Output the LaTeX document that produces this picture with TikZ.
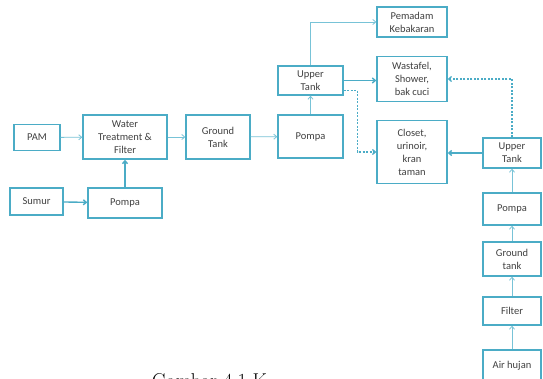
\documentclass[tikz,border=0pt]{standalone}
\usepackage{fontspec}
\newfontfamily\boxfont{Carlito}
\usepackage{tikz}
\usetikzlibrary{arrows.meta}
\definecolor{aqua}{RGB}{75,172,198}
\definecolor{lightaqua}{RGB}{120,195,215}
\tikzset{
  box/.style={draw=aqua, line width=1.3pt, align=center, inner sep=1pt,
    font=\boxfont\fontsize{10.5}{13}\selectfont, text=black!75},
  link/.style={draw=lightaqua, line width=0.8pt, -{Straight Barb[length=3pt,width=5pt]}},
  boldlink/.style={link, draw=aqua, line width=1.4pt},
  dotlink/.style={link, draw=aqua, line width=1.2pt, dash pattern=on 2pt off 1.5pt}
}

\begin{document}
\begin{tikzpicture}[x=1pt,y=-1pt]
\useasboundingbox[fill=white] (0,0) rectangle (543,378);

% left part
\node [box, minimum width=46, minimum height=26] (pam) at (37,137.5) {PAM};
\node [box, minimum width=84, minimum height=44] (wtf) at (125,137) {Water\\Treatment \&\\Filter};
\node [box, minimum width=64, minimum height=44] (gtank) at (218,137) {Ground\\Tank};
\node [box, minimum width=53, minimum height=27] (sumur) at (36.5,201.5) {Sumur};
\node [box, minimum width=74, minimum height=30] (pompaA) at (125,203) {Pompa};

% middle part
\node [box, minimum width=65, minimum height=43] (pompaB) at (310.5,136.5) {Pompa};
\node [box, minimum width=65, minimum height=29] (upperA) at (310.5,80.5) {Upper\\Tank};
\node [box, minimum width=70, minimum height=30] (pemadam) at (412,22) {Pemadam\\Kebakaran};
\node [box, minimum width=70, minimum height=45] (wastafel) at (412,79) {Wastafel,\\Shower,\\bak cuci};
\node [box, minimum width=70, minimum height=63] (closet) at (412,152) {Closet,\\urinoir,\\kran\\taman};

% right column
\node [box, minimum width=58, minimum height=30] (upperB) at (512,153) {Upper\\Tank};
\node [box, minimum width=58, minimum height=32] (pompaC) at (512,209) {Pompa};
\node [box, minimum width=58, minimum height=34] (gtankB) at (512,259) {Ground\\tank};
\node [box, minimum width=58, minimum height=28] (filter) at (512,311) {Filter};
\node [box, minimum width=58, minimum height=32] (airhujan) at (512,366) {Air hujan};

% connectors
\draw [link] (pam) -- (wtf);
\draw [link] (wtf) -- (gtank);
\draw [link] (gtank) -- (pompaB);
\draw [boldlink] (sumur) -- (pompaA);
\draw [boldlink] (pompaA) -- (wtf);
\draw [link] (pompaB) -- (upperA);
\draw [link] (upperA.north) |- (pemadam.west);
\draw [boldlink] (upperA.east) -- (upperA.east -| wastafel.west);
\draw [dotlink] ([yshift=-10pt]upperA.east) -- ++(14,0) |- (closet.west);
\draw [boldlink] (upperB.west) -- (upperB.west -| closet.east);
\draw [dotlink] (upperB.north) |- (wastafel.east);
\draw [link] (pompaC) -- (upperB);
\draw [link] (gtankB) -- (pompaC);
\draw [link] (filter) -- (gtankB);
\draw [link] (airhujan) -- (filter);

% caption, cut by the page edge
\node [anchor=north west, inner sep=0pt, font=\fontsize{20}{24}\selectfont] (caption) at (152,373.5) {Gambar 4.1 K};
\end{tikzpicture}
\end{document}
